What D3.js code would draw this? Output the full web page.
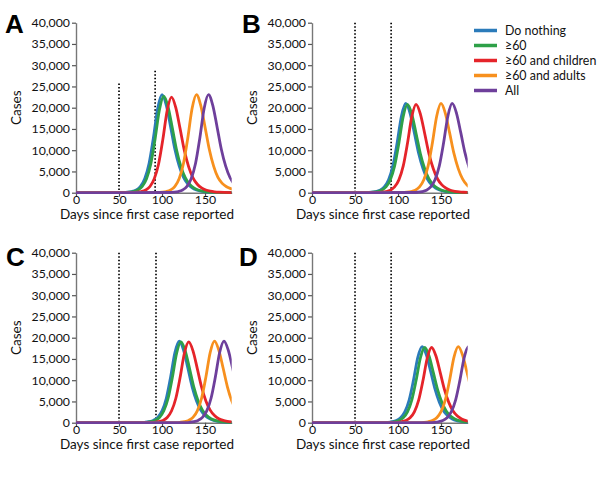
<!DOCTYPE html>
<html><head><meta charset="utf-8">
<script src="https://cdn.jsdelivr.net/npm/d3@7"></script>
<style>body{margin:0;background:#fff}svg{display:block}</style>
</head><body>
<script>
const seriesNames = ["Do nothing", "≥60", "≥60 and children", "≥60 and adults", "All"];
const seriesColors = ["#2b7bba", "#2ea048", "#e5242a", "#f7901e", "#6e3f9b"];
const yTicks = [0, 5000, 10000, 15000, 20000, 25000, 30000, 35000, 40000];
const xTicks = [0, 50, 100, 150];
const panelLetters = ["A", "B", "C", "D"];
const dottedDays = [[50, 92], [50, 92], [50, 93], [50, 92]];
const dottedTops = [[25700, 28700], [40000, 40000], [40000, 40000], [40000, 40000]];

// Panel A
const blueA = [[0,0],[55,46],[60,116],[65,277],[70,647],[75,1500],[80,3350],[85,6930],[90,12940],[95,19870],[100,23100],[105,20560],[110,15480],[115,10160],[120,6240],[125,3580],[130,2030],[135,1155],[140,650],[145,370],[150,210],[155,115],[181,10]];
const greenA = [[0,0],[57,45],[62,114],[67,272],[72,636],[77,1475],[82,3290],[87,6810],[92,12710],[97,19520],[102,22700],[107,20200],[112,15210],[117,9990],[122,6130],[127,3520],[132,2000],[137,1135],[142,636],[147,363],[152,204],[157,114],[181,10]];
const redA = [[0,0],[66,45],[71,113],[76,270],[81,630],[86,1460],[91,3260],[96,6750],[101,12600],[106,19350],[111,22500],[116,20030],[121,15080],[126,9900],[131,6080],[136,3490],[141,1980],[146,1125],[151,630],[156,360],[161,203],[166,113],[181,20]];
const orangeA = [[0,0],[95,46],[100,116],[105,277],[110,647],[115,1500],[120,3350],[125,6930],[130,12940],[135,19870],[140,23100],[145,20560],[150,15480],[155,10160],[160,6240],[165,3580],[170,2200],[175,1400],[180,950],[185,620]];
const purpleA = [[0,0],[109,46],[114,116],[119,277],[124,647],[129,1500],[134,3350],[139,6930],[144,12940],[149,19870],[154,23100],[159,20560],[164,15480],[169,10160],[174,6240],[179,3580],[184,2030]];

// Panel B
const blueB = [[0,0],[64,42],[69,105],[74,252],[79,588],[84,1365],[89,3045],[94,6300],[99,11760],[104,18060],[109,21000],[114,18690],[119,14070],[124,9240],[129,5670],[134,3255],[139,1848],[144,1050],[149,588],[154,336],[159,189],[164,105],[181,20]];
const greenB = [[0,0],[66,42],[71,104],[76,250],[81,582],[86,1352],[91,3016],[96,6240],[101,11650],[106,17890],[111,20800],[116,18510],[121,13940],[126,9150],[131,5620],[136,3220],[141,1830],[146,1040],[151,582],[156,333],[161,187],[166,104],[181,30]];
const redB = [[0,0],[76,42],[81,104],[86,250],[91,582],[96,1352],[101,3016],[106,6240],[111,11650],[116,17890],[121,20800],[126,18510],[131,13940],[136,9150],[141,5620],[146,3220],[151,1830],[156,1040],[161,582],[166,333],[171,187],[176,104],[181,60]];
const orangeB = [[0,0],[105,42],[110,105],[115,252],[120,588],[125,1365],[130,3045],[135,6300],[140,11760],[145,18060],[150,21000],[155,18690],[160,14070],[165,9240],[170,5670],[175,3255],[180,1848],[185,1050]];
const purpleB = [[0,0],[118,42],[123,105],[128,252],[133,588],[138,1365],[143,3045],[148,6300],[153,11760],[158,18060],[163,21000],[168,18690],[173,14070],[178,9240],[183,5670]];

// Panel C
const blueC = [[0,0],[75,38],[80,96],[85,230],[90,538],[95,1248],[100,2784],[105,5760],[110,10750],[115,16510],[120,19200],[125,17090],[130,12860],[135,8450],[140,5180],[145,2980],[150,1690],[155,960],[160,538],[165,307],[170,173],[175,96],[181,50]];
const greenC = [[0,0],[77,38],[82,95],[87,228],[92,532],[97,1235],[102,2755],[107,5700],[112,10640],[117,16340],[122,19000],[127,16910],[132,12730],[137,8360],[142,5130],[147,2950],[152,1670],[157,950],[162,532],[167,304],[172,171],[177,95],[181,60]];
const redC = [[0,0],[86,38],[91,95],[96,228],[101,532],[106,1235],[111,2755],[116,5700],[121,10640],[126,16340],[131,19000],[136,16910],[141,12730],[146,8360],[151,5130],[156,2950],[161,1670],[166,950],[171,532],[176,304],[181,171]];
const orangeC = [[0,0],[116,38],[121,96],[126,230],[131,538],[136,1248],[141,2784],[146,5760],[151,10750],[156,16510],[161,19200],[166,17090],[171,12860],[176,8450],[181,5180],[186,2980]];
const purpleC = [[0,0],[127,38],[132,96],[137,230],[142,538],[147,1248],[152,2784],[157,5760],[162,10750],[167,16510],[172,19200],[177,17090],[182,12860],[187,8450]];

// Panel D
const blueD = [[0,0],[83,36],[88,90],[93,215],[98,501],[103,1164],[108,2596],[113,5370],[118,10020],[123,15390],[128,17900],[133,15930],[138,11990],[143,7880],[148,4830],[153,2770],[158,1575],[163,895],[168,501],[173,286],[178,161],[183,90]];
const greenD = [[0,0],[86,35],[91,89],[96,212],[101,496],[106,1150],[111,2567],[116,5310],[121,9910],[126,15220],[131,17700],[136,15750],[141,11860],[146,7790],[151,4780],[156,2740],[161,1560],[166,885],[171,496],[176,283],[181,159]];
const redD = [[0,0],[94,35],[99,89],[104,212],[109,496],[114,1150],[119,2567],[124,5310],[129,9910],[134,15220],[139,17700],[144,15750],[149,11860],[154,7790],[159,4780],[164,2740],[169,1560],[174,885],[179,496],[184,283]];
const orangeD = [[0,0],[125,36],[130,90],[135,215],[140,501],[145,1164],[150,2596],[155,5370],[160,10020],[165,15390],[170,17900],[175,15930],[180,11990],[185,7880]];
const purpleD = [[0,0],[137,36],[142,90],[147,215],[152,501],[157,1164],[162,2596],[167,5370],[172,10020],[177,15390],[182,17900],[187,15930]];

const panelSeries = [
  [blueA, greenA, redA, orangeA, purpleA],
  [blueB, greenB, redB, orangeB, purpleB],
  [blueC, greenC, redC, orangeC, purpleC],
  [blueD, greenD, redD, orangeD, purpleD]
];

const W = 600, H = 487;
const svg = d3.select("body").append("svg").attr("width", W).attr("height", H);
const FONT = "Lato, 'Open Sans', sans-serif";
const axisColor = "#777";

// panel geometry: origin x, top y, bottom y
const geo = [
  {x0: 76, x1: 231.7, yTop: 22.7, yBot: 192.7, lx: 5, ly: 33},
  {x0: 312, x1: 467.7, yTop: 22.7, yBot: 192.7, lx: 242, ly: 33},
  {x0: 76, x1: 231.7, yTop: 252.7, yBot: 422.7, lx: 6, ly: 266},
  {x0: 312, x1: 467.7, yTop: 252.7, yBot: 422.7, lx: 239, ly: 266}
];

geo.forEach((g, i) => {
  const x = d3.scaleLinear().domain([0, 181]).range([g.x0, g.x1]);
  const y = d3.scaleLinear().domain([0, 40000]).range([g.yBot, g.yTop]);
  const p = svg.append("g");

  const clipId = "clip" + i;
  svg.append("clipPath").attr("id", clipId).append("rect")
    .attr("x", g.x0 - 5).attr("y", g.yTop - 10)
    .attr("width", g.x1 - g.x0 + 5).attr("height", g.yBot - g.yTop + 20);

  // y axis
  const ya = p.append("g").attr("transform", `translate(${g.x0},0)`)
    .call(d3.axisLeft(y).tickValues(yTicks).tickSize(4).tickSizeOuter(0).tickPadding(2).tickFormat(d3.format(",")));
  // x axis
  const xa = p.append("g").attr("transform", `translate(0,${g.yBot})`)
    .call(d3.axisBottom(x).tickValues(xTicks).tickSize(4).tickSizeOuter(0).tickPadding(-1.5));
  [ya, xa].forEach(a => {
    a.select(".domain").attr("stroke", axisColor).attr("stroke-width", 1.4);
    a.selectAll(".tick line").attr("stroke", "#555").attr("stroke-width", 1.2);
    a.selectAll(".tick text").attr("fill", "#111").style("font-family", FONT).style("font-size", "12.3px");
  });

  // axis titles
  p.append("text").attr("x", g.x0 + 71).attr("y", g.yBot + 26)
    .attr("text-anchor", "middle").style("font-family", FONT).style("font-size", "13.5px").attr("fill", "#111")
    .text("Days since first case reported");
  p.append("text").attr("transform", `translate(${g.x0 - 55},${(g.yTop + g.yBot) / 2}) rotate(-90)`)
    .attr("text-anchor", "middle").style("font-family", FONT).style("font-size", "13.5px").attr("fill", "#111")
    .text("Cases");

  // panel letter
  p.append("text").attr("x", g.lx).attr("y", g.ly)
    .style("font-family", "'Liberation Sans', Arial, sans-serif").style("font-weight", "bold").style("font-size", "26px")
    .attr("fill", "#000").text(panelLetters[i]);

  // dotted lines
  dottedDays[i].forEach((d, j) => {
    p.append("line").attr("x1", x(d)).attr("x2", x(d))
      .attr("y1", y(dottedTops[i][j])).attr("y2", y(0))
      .attr("stroke", "#000").attr("stroke-width", 1.7).attr("stroke-dasharray", "1.6,1.9");
  });

  // curves
  const line = d3.line().x(d => x(d[0])).y(d => y(d[1])).curve(d3.curveMonotoneX);
  const cg = p.append("g").attr("clip-path", `url(#${clipId})`);
  panelSeries[i].forEach((s, k) => {
    cg.append("path").datum(s).attr("d", line).attr("fill", "none")
      .attr("stroke", seriesColors[k]).attr("stroke-width", 2.8).attr("stroke-linejoin", "round");
  });
});

// legend
const lg = svg.append("g");
seriesNames.forEach((n, k) => {
  const yy = 30.5 + k * 15;
  lg.append("line").attr("x1", 474).attr("x2", 497).attr("y1", yy).attr("y2", yy)
    .attr("stroke", seriesColors[k]).attr("stroke-width", 3.5);
  lg.append("text").attr("x", 505).attr("y", yy + 4.5)
    .style("font-family", FONT).style("font-size", "12.4px").attr("fill", "#111").text(n);
});
</script>
</body></html>
